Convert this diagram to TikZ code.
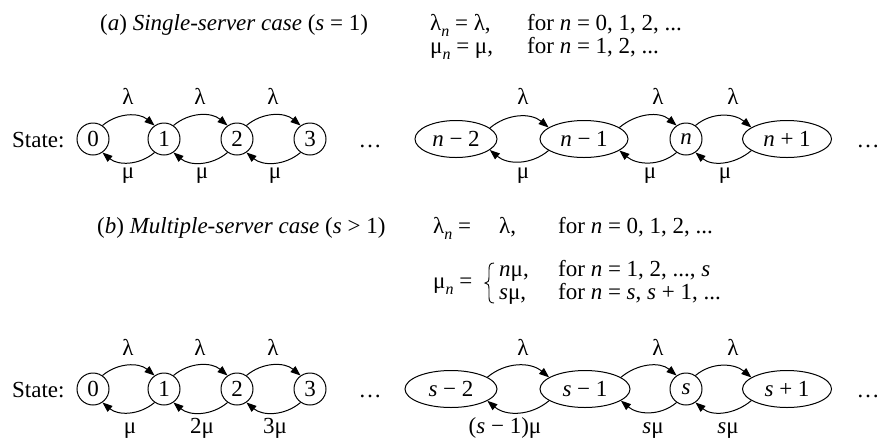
\documentclass[tikz,border=0pt]{standalone}
\usepackage{fontspec}
\setmainfont{Liberation Serif}
\usetikzlibrary{arrows.meta,shapes.geometric}
\newcommand\sbn[1]{\raisebox{-0.3em}{\fontsize{16}{16}\selectfont\itshape #1}}
\begin{document}
\begin{tikzpicture}[x=1pt,y=-1pt,font=\fontsize{23}{27}\selectfont,
  st/.style={draw,line width=1pt,circle,minimum size=32pt,inner sep=0pt},
  el/.style={draw,line width=1pt,ellipse,minimum height=37pt,inner sep=0pt},
  arr/.style={line width=1pt,-{Triangle[length=10pt,width=7.5pt]}},
  lab/.style={anchor=base,inner sep=0pt},
  txt/.style={anchor=base west,inner sep=0pt}]
\useasboundingbox (0,0) rectangle (883,440);

% headers
\node[txt] (ha) at (100,30) {(\textit{a}) \textit{Single-server case} (\textit{s} = 1)};
\node[txt] (la) at (430,30) {λ\sbn{n} = λ,};
\node[txt] (fa1) at (527,30) {for \textit{n} = 0, 1, 2, ...};
\node[txt] (ma) at (430,53) {μ\sbn{n} = μ,};
\node[txt] (fa2) at (527,53) {for \textit{n} = 1, 2, ...};

\node[txt] (hb) at (97,233) {(\textit{b}) \textit{Multiple-server case} (\textit{s} > 1)};
\node[txt] (lb) at (433,233) {λ\sbn{n} =};
\node[txt] (lb2) at (499,233) {λ,};
\node[txt] (fb1) at (558,233) {for \textit{n} = 0, 1, 2, ...};
\node[txt] (mb) at (433,288) {μ\sbn{n} =};
% brace
\draw[line width=0.9pt] (494,263) .. controls (490,263) and (489,265) .. (489,270)
  -- (489,277) .. controls (489,281) and (488,283) .. (485,283)
  .. controls (488,283) and (489,285) .. (489,289)
  -- (489,297) .. controls (489,301) and (490,303) .. (494,303);
\node[txt] (nm) at (499,276) {\textit{n}μ,};
\node[txt] (sm) at (499,299) {\textit{s}μ,};
\node[txt] (fb2) at (558,276) {for \textit{n} = 1, 2, ..., \textit{s}};
\node[txt] (fb3) at (558,299) {for \textit{n} = \textit{s}, \textit{s} + 1, ...};

% row 1
\node[txt] (sa) at (12,147) {State:};
\node[st] (a0) at (93,139) {0};
\node[st] (a1) at (164,139) {1};
\node[st] (a2) at (237,139) {2};
\node[st] (a3) at (310,139) {3};
\node[lab] (da) at (370,147) {…};
\node[el,minimum width=82pt] (an2) at (456,139) {\textit{n} − 2};
\node[el,minimum width=88pt] (an1) at (584,139) {\textit{n} − 1};
\node[st] (an) at (686,139) {\textit{n}};
\node[el,minimum width=89pt] (ap1) at (787,139) {\textit{n} + 1};
\node[lab] (db) at (868,147) {…};

\foreach \p/\q in {a0/a1,a1/a2,a2/a3}{
  \draw[arr] (\p.55) to[out=40,in=140] (\q.125);
  \draw[arr] (\q.-125) to[out=-140,in=-40] (\p.-55);}
\draw[arr] (an2.18) to[out=40,in=140] (an1.162);
\draw[arr] (an1.-162) to[out=-140,in=-40] (an2.-18);
\draw[arr] (an1.18) to[out=40,in=140] (an.125);
\draw[arr] (an.-125) to[out=-140,in=-40] (an1.-18);
\draw[arr] (an.55) to[out=40,in=140] (ap1.162);
\draw[arr] (ap1.-162) to[out=-140,in=-40] (an.-55);

\foreach \x/\n in {128/1,200/2,273/3,523/4,658/5,733/6}
  \node[lab] (al\n) at (\x,104) {λ};
\foreach \x/\n in {128/1,202/2,275/3,523/4,650/5,725/6}
  \node[lab] (am\n) at (\x,178) {μ};

% row 2
\node[txt] (sb) at (12,397) {State:};
\node[st] (b0) at (93,389) {0};
\node[st] (b1) at (164,389) {1};
\node[st] (b2) at (237,389) {2};
\node[st] (b3) at (310,389) {3};
\node[lab] (dc) at (370,397) {…};
\node[el,minimum width=92pt] (bs2) at (451,389) {\textit{s} − 2};
\node[el,minimum width=90pt] (bs1) at (585,389) {\textit{s} − 1};
\node[st] (bs) at (686,389) {\textit{s}};
\node[el,minimum width=89pt] (bp1) at (787,389) {\textit{s} + 1};
\node[lab] (dd) at (868,397) {…};

\foreach \p/\q in {b0/b1,b1/b2,b2/b3}{
  \draw[arr] (\p.55) to[out=40,in=140] (\q.125);
  \draw[arr] (\q.-125) to[out=-140,in=-40] (\p.-55);}
\draw[arr] (bs2.18) to[out=40,in=140] (bs1.162);
\draw[arr] (bs1.-162) to[out=-140,in=-40] (bs2.-18);
\draw[arr] (bs1.18) to[out=40,in=140] (bs.125);
\draw[arr] (bs.-125) to[out=-140,in=-40] (bs1.-18);
\draw[arr] (bs.55) to[out=40,in=140] (bp1.162);
\draw[arr] (bp1.-162) to[out=-140,in=-40] (bs.-55);

\foreach \x/\n in {128/1,200/2,273/3,523/4,658/5,733/6}
  \node[lab] (bl\n) at (\x,355) {λ};
\node[lab] (bm1) at (130,433) {μ};
\node[lab] (bm2) at (202,433) {2μ};
\node[lab] (bm3) at (275,433) {3μ};
\node[lab] (bm4) at (505,433) {(\textit{s} − 1)μ};
\node[lab] (bm5) at (653,433) {\textit{s}μ};
\node[lab] (bm6) at (728,433) {\textit{s}μ};
\end{tikzpicture}
\end{document}
